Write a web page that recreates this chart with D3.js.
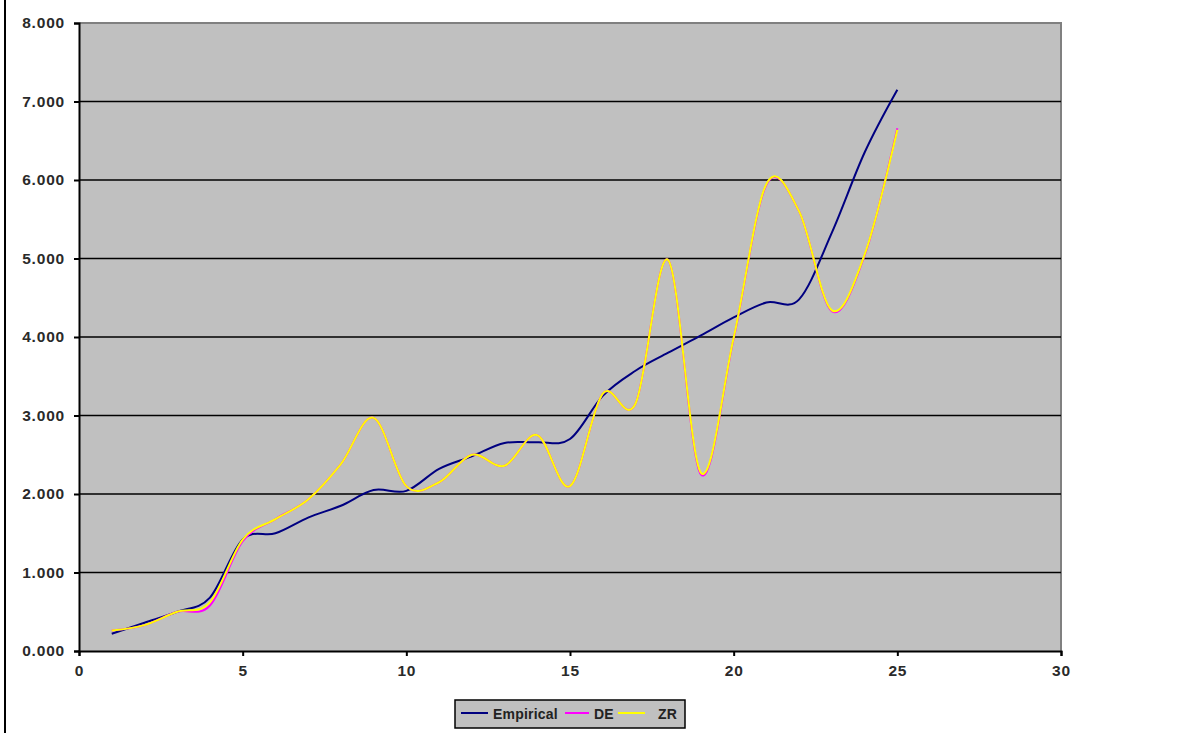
<!DOCTYPE html>
<html>
<head>
<meta charset="utf-8">
<script src="https://cdn.jsdelivr.net/npm/d3@7"></script>
<style>
  html, body { margin: 0; padding: 0; background: #fff; }
  svg { display: block; }
  text { font-family: "Liberation Sans", Arial, sans-serif; }
</style>
</head>
<body>
<svg id="chart" width="1181" height="733"></svg>
<script>
// ---- data ----
const xValues = [1,2,3,4,5,6,7,8,9,10,11,12,13,14,15,16,17,18,19,20,21,22,23,24,25];
const empirical = [0.22,0.36,0.50,0.68,1.42,1.50,1.70,1.85,2.05,2.04,2.32,2.48,2.65,2.66,2.70,3.25,3.57,3.80,4.02,4.25,4.44,4.48,5.33,6.35,7.15];
const deValues  = [0.26,0.33,0.50,0.58,1.40,1.68,1.93,2.38,2.97,2.10,2.15,2.50,2.36,2.75,2.10,3.28,3.15,4.98,2.25,3.98,5.94,5.60,4.33,5.04,6.66];
const zrValues  = [0.26,0.33,0.50,0.62,1.42,1.68,1.93,2.38,2.97,2.10,2.15,2.50,2.36,2.75,2.10,3.28,3.15,4.98,2.27,3.99,5.95,5.60,4.34,5.05,6.64];
const xTicks = [0,5,10,15,20,25,30];
const yTicks = [0,1,2,3,4,5,6,7,8];
const seriesNames = ["Empirical","DE","ZR"];
const seriesColors = ["#000080","#FF00FF","#FFFF00"];

const svg = d3.select("#chart");
const W = 1181, H = 733;
const L = 79, R = 1061, T = 23, B = 651;

// outer frame line on the left
svg.append("line").attr("x1",5).attr("x2",5).attr("y1",0).attr("y2",H)
  .attr("stroke","#000").attr("stroke-width",2);

const x = d3.scaleLinear().domain([0,30]).range([L,R]);
const y = d3.scaleLinear().domain([0,8]).range([B,T]);

// plot background
svg.append("rect").attr("x",L).attr("y",T).attr("width",R-L).attr("height",B-T)
  .attr("fill","#C0C0C0");
// top/right border
svg.append("path").attr("d",`M${L},${T}H${R}V${B}`).attr("fill","none")
  .attr("stroke","#808080").attr("stroke-width",2);

// gridlines
svg.append("g").selectAll("line").data(yTicks.filter(d=>d>0 && d<8)).join("line")
  .attr("x1",L).attr("x2",R).attr("y1",d=>y(d)).attr("y2",d=>y(d))
  .attr("stroke","#000").attr("stroke-width",1.6);

// axes
const fmt = d3.format(".3f");
const yAxis = svg.append("g").attr("transform",`translate(${L},0)`)
  .call(d3.axisLeft(y).tickValues(yTicks).tickFormat(fmt).tickSize(5).tickPadding(9));
const xAxis = svg.append("g").attr("transform",`translate(0,${B})`)
  .call(d3.axisBottom(x).tickValues(xTicks).tickFormat(d3.format("d")).tickSize(5).tickPadding(9));
[yAxis,xAxis].forEach(a=>{
  a.select(".domain").attr("stroke","#000").attr("stroke-width",2);
  a.selectAll(".tick line").attr("stroke","#000").attr("stroke-width",2);
  a.selectAll(".tick text").attr("fill","#2a2a2a").attr("font-size",15.5)
    .attr("font-weight","bold").attr("letter-spacing","0.8px")
    .attr("font-family","'Liberation Sans', Arial, sans-serif");
});

// lines
const line = d3.line().x((d,i)=>x(xValues[i])).y(d=>y(d)).curve(d3.curveCatmullRom.alpha(0));
const allSeries = [empirical, deValues, zrValues];
svg.append("g").selectAll("path").data(allSeries).join("path")
  .attr("d",d=>line(d)).attr("fill","none")
  .attr("stroke",(d,i)=>seriesColors[i]).attr("stroke-width",2);

// legend
const lg = svg.append("g");
lg.append("rect").attr("x",455).attr("y",700).attr("width",230).attr("height",28)
  .attr("fill","#C0C0C0").attr("stroke","#000").attr("stroke-width",1.5);
const items = [
  {x1:461,x2:488,tx:493},
  {x1:565,x2:589,tx:594},
  {x1:618,x2:645,tx:658}
];
items.forEach((it,i)=>{
  lg.append("line").attr("x1",it.x1).attr("x2",it.x2).attr("y1",713).attr("y2",713)
    .attr("stroke",seriesColors[i]).attr("stroke-width",2);
  lg.append("text").attr("x",it.tx).attr("y",718.5).attr("font-size",14)
    .attr("font-weight","bold").attr("fill","#222").attr("letter-spacing","0.2px")
    .text(seriesNames[i]);
});
</script>
</body>
</html>
